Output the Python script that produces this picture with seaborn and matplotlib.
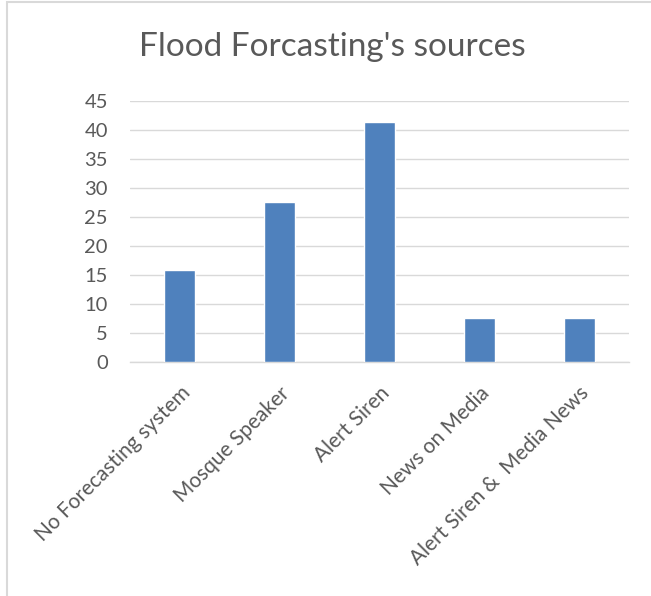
import matplotlib
matplotlib.use("Agg")
import matplotlib.pyplot as plt
from matplotlib.patches import Rectangle
import seaborn as sns
import pandas as pd

sources = ["No Forecasting system", "Mosque Speaker", "Alert Siren",
           "News on Media", "Alert Siren &  Media News"]
percent = [15.9, 27.6, 41.4, 7.6, 7.6]
y_ticks = [0, 5, 10, 15, 20, 25, 30, 35, 40, 45]
title = "Flood Forcasting's sources"

df = pd.DataFrame({"source": sources, "percent": percent})

sns.set_theme(style="white")
plt.rcParams["font.family"] = ["Lato", "DejaVu Sans"]

W, H, DPI = 651, 596, 100
fig = plt.figure(figsize=(W / DPI, H / DPI), dpi=DPI)
ax = fig.add_axes([130 / W, 1 - 362 / H, (629 - 130) / W, (362 - 101) / H])

text_col = "#595959"
grid_col = "#d9d9d9"

sns.barplot(data=df, x="source", y="percent", color="#4f81bd",
            saturation=1, width=0.31, ax=ax, zorder=3)

ax.set_ylim(0, 45)
ax.set_xlim(-0.5, len(sources) - 0.5)
ax.set_yticks(y_ticks)
ax.yaxis.grid(True, color=grid_col, linewidth=1.0, zorder=0)
ax.set_axisbelow(True)
for side in ["left", "right", "top"]:
    ax.spines[side].set_visible(False)
ax.spines["bottom"].set_color(grid_col)
ax.spines["bottom"].set_linewidth(1.0)
ax.set_xlabel("")
ax.set_ylabel("")

ax.tick_params(axis="y", length=0, pad=16, labelsize=14.5, labelcolor=text_col)
ax.tick_params(axis="x", length=0, pad=15, labelsize=15, labelcolor=text_col)
for lbl in ax.get_xticklabels():
    lbl.set_rotation(45)
    lbl.set_ha("right")
    lbl.set_va("top")
    lbl.set_rotation_mode("anchor")

fig.text(0.51, 1 - 56 / H, title, ha="center", va="baseline",
         fontsize=24, color=text_col)

# light chart-area frame along the left and top edges
fig.add_artist(Rectangle((6.5 / W, -0.5), 2, 1.5 - 1.5 / H,
                         transform=fig.transFigure, fill=False,
                         edgecolor=grid_col, linewidth=1.5))

fig.savefig("out.png", dpi=DPI, facecolor="white")
